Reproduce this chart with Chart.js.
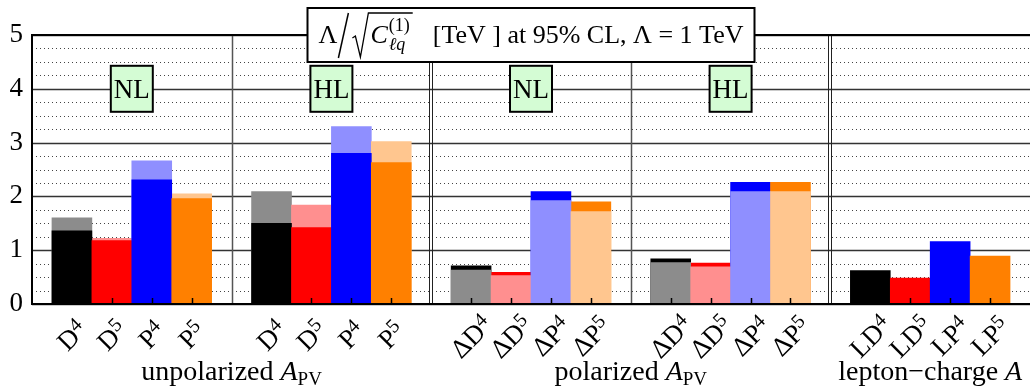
<!DOCTYPE html>
<html>
<head>
<meta charset="utf-8">
<script src="https://cdn.jsdelivr.net/npm/chart.js@4"></script>
<style>
  html, body { margin: 0; background: #fff; }
  #wrap { width: 1030px; height: 389px; }
</style>
</head>
<body>
<div id="wrap"><canvas id="chart"></canvas></div>
<script>
// categorías del eje x ('' = hueco entre grupos); el último dígito va como exponente
const labels = ['D4', 'D5', 'P4', 'P5', '',
                'D4', 'D5', 'P4', 'P5', '',
                'ΔD4', 'ΔD5', 'ΔP4', 'ΔP5', '',
                'ΔD4', 'ΔD5', 'ΔP4', 'ΔP5', '',
                'LD4', 'LD5', 'LP4', 'LP5'];

// valores (TeV) de la serie oscura y de la clara
const darkValues  = [1.36, 1.18, 2.31, 1.96, null,
                     1.50, 1.42, 2.80, 2.63, null,
                     0.71, 0.59, 2.09, 1.90, null,
                     0.84, 0.76, 2.26, 2.26, null,
                     0.62, 0.48, 1.16, 0.89];
const lightValues = [1.60, 1.22, 2.66, 2.05, null,
                     2.09, 1.84, 3.30, 3.02, null,
                     0.63, 0.53, 1.92, 1.72, null,
                     0.77, 0.69, 2.09, 2.09, null,
                     null, null, null, null];

const darkColors  = ['#000000', '#ff0000', '#0000ff', '#ff8000'];
const lightColors = ['#8c8c8c', '#ff8f8f', '#8f8fff', '#ffc68f'];

const groupTags = ['NL', 'HL', 'NL', 'HL'];
const sectionNames = ['unpolarized', 'polarized', 'lepton−charge'];
const sectionSubs = ['PV', 'PV', ''];
const sectionRanges = [[0, 8], [10, 18], [20, 23]];
const doubleSeparators = [9, 19];
const singleSeparators = [4, 14];

const SERIF = '"Liberation Serif", "DejaVu Serif", serif';

// barra trasera = el valor mayor, barra delantera = el menor
const backData = [], frontData = [], backColors = [], frontColors = [];
labels.forEach((l, i) => {
  const d = darkValues[i], lt = lightValues[i], c = i % 5;
  if (d === null) { backData.push(null); frontData.push(null); backColors.push('#fff'); frontColors.push('#fff'); return; }
  if (lt === null) { backData.push(d); frontData.push(null); backColors.push(darkColors[c]); frontColors.push('#fff'); return; }
  if (d >= lt) {
    backData.push(d); backColors.push(darkColors[c]);
    frontData.push(lt); frontColors.push(lightColors[c]);
  } else {
    backData.push(lt); backColors.push(lightColors[c]);
    frontData.push(d); frontColors.push(darkColors[c]);
  }
});

// medio hueco a cada extremo del eje
const pad = a => [null, ...a, null];
const xLabels = ['', ...labels, ''];
const X = i => i + 1;   // índice de labels -> índice en el eje

const gridPlugin = {
  id: 'grid',
  beforeDatasetsDraw(chart) {
    const { ctx, chartArea: a, scales: { x, y } } = chart;
    ctx.save();
    y.ticks.forEach(t => {
      const py = Math.round(y.getPixelForValue(t.value)) + 0.5;
      const major = Math.abs(t.value - Math.round(t.value)) < 1e-6;
      ctx.beginPath();
      if (major) { ctx.setLineDash([]); ctx.strokeStyle = '#333'; ctx.lineWidth = 1.5; }
      else { ctx.setLineDash([1, 3]); ctx.strokeStyle = '#444'; ctx.lineWidth = 1; }
      ctx.moveTo(a.left, py); ctx.lineTo(a.right, py); ctx.stroke();
    });
    ctx.setLineDash([]);
    singleSeparators.forEach(i => {
      const px = Math.round(x.getPixelForValue(X(i))) + 0.5;
      ctx.strokeStyle = '#555'; ctx.lineWidth = 1.5;
      ctx.beginPath(); ctx.moveTo(px, a.top); ctx.lineTo(px, a.bottom); ctx.stroke();
    });
    doubleSeparators.forEach(i => {
      const px = Math.round(x.getPixelForValue(X(i)));
      ctx.strokeStyle = '#222'; ctx.lineWidth = 1;
      [-1.5, 1.5].forEach(o => {
        ctx.beginPath(); ctx.moveTo(px + o, a.top); ctx.lineTo(px + o, a.bottom); ctx.stroke();
      });
    });
    ctx.restore();
  },
  afterDatasetsDraw(chart) {
    const { ctx, chartArea: a, scales: { x, y } } = chart;
    ctx.save();
    // marcas del eje x
    ctx.strokeStyle = '#000'; ctx.lineWidth = 1.5;
    labels.forEach((l, i) => {
      if (!l) return;
      const px = Math.round(x.getPixelForValue(X(i))) + 0.5;
      ctx.beginPath(); ctx.moveTo(px, a.bottom); ctx.lineTo(px, a.bottom - 6); ctx.stroke();
    });
    // bordes
    ctx.lineWidth = 2; ctx.strokeStyle = '#000';
    ctx.beginPath();
    ctx.moveTo(a.right, a.top); ctx.lineTo(a.left, a.top); ctx.lineTo(a.left, a.bottom); ctx.lineTo(a.right, a.bottom);
    ctx.stroke();
    // etiquetas NL / HL
    ctx.font = '27px ' + SERIF;
    ctx.textAlign = 'center'; ctx.textBaseline = 'middle';
    groupTags.forEach((tag, g) => {
      const cx = x.getPixelForValue(X(g * 5 + 1.5));
      const cy = y.getPixelForValue(4);
      const w = 42, h = 46;
      ctx.fillStyle = '#d4fcd4';
      ctx.fillRect(cx - w / 2, cy - h / 2, w, h);
      ctx.strokeStyle = '#000'; ctx.lineWidth = 2;
      ctx.strokeRect(cx - w / 2, cy - h / 2, w, h);
      ctx.fillStyle = '#000';
      ctx.fillText(tag, cx, cy + 2);
    });
    ctx.restore();
    drawTitle(chart);
  },
  afterDraw(chart) {
    const { ctx, chartArea: a, scales: { x } } = chart;
    ctx.save();
    ctx.fillStyle = '#000'; ctx.textBaseline = 'alphabetic'; ctx.textAlign = 'left';
    // etiquetas giradas del eje x
    const fMain = '27px ' + SERIF, fSup = '20px ' + SERIF;
    labels.forEach((l, i) => {
      if (!l) return;
      const main = l.slice(0, -1), sup = l.slice(-1);
      ctx.font = fMain; const wm = ctx.measureText(main).width;
      ctx.font = fSup; const ws = ctx.measureText(sup).width;
      const w = wm + ws;
      ctx.save();
      ctx.translate(x.getPixelForValue(X(i)), a.bottom + 29 + w * 0.08);
      ctx.rotate(-Math.PI / 4);
      ctx.font = fMain; ctx.fillText(main, -w / 2, 9);
      ctx.font = fSup; ctx.fillText(sup, -w / 2 + wm, 1);
      ctx.restore();
    });
    // títulos de sección
    sectionNames.forEach((name, s) => {
      const cx = x.getPixelForValue(X((sectionRanges[s][0] + sectionRanges[s][1]) / 2));
      const f1 = '28px ' + SERIF, f2 = 'italic 28px ' + SERIF, f3 = '19px ' + SERIF;
      const t1 = name + ' ';
      ctx.font = f1; const w1 = ctx.measureText(t1).width;
      ctx.font = f2; const w2 = ctx.measureText('A').width;
      ctx.font = f3; const w3 = ctx.measureText(sectionSubs[s]).width;
      let px = cx - (w1 + w2 + w3) / 2;
      const by = 380;
      ctx.font = f1; ctx.fillText(t1, px, by); px += w1;
      ctx.font = f2; ctx.fillText('A', px, by); px += w2;
      ctx.font = f3; ctx.fillText(sectionSubs[s], px, by + 5);
    });
    ctx.restore();
  }
};

function drawTitle(chart) {
  const { ctx, chartArea: a } = chart;
  const big = '26px ' + SERIF, it = 'italic 26px ' + SERIF;
  const small = '18px ' + SERIF, smallIt = 'italic 18px ' + SERIF;
  const rest = '[TeV ] at 95% CL, Λ = 1 TeV';
  ctx.save();
  ctx.font = big; const wL = ctx.measureText('Λ').width;
  const wRest = ctx.measureText(rest).width;
  ctx.font = it; const wC = ctx.measureText('C').width;
  ctx.font = small; const wSup = ctx.measureText('(1)').width;
  ctx.font = smallIt; const wSub = ctx.measureText('ℓq').width;
  const wScript = Math.max(wSup, wSub);
  const wSlash = 13, wRad = 20, gap = 20;
  const total = wL + wSlash + wRad + wC + wScript + 4 + gap + wRest;
  const cx = (a.left + a.right) / 2;
  const bw = 447, bh = 54, top = 8;
  ctx.fillStyle = '#fff';
  ctx.fillRect(cx - bw / 2, top, bw, bh);
  ctx.strokeStyle = '#000'; ctx.lineWidth = 2;
  ctx.strokeRect(cx - bw / 2, top, bw, bh);
  let px = cx - total / 2;
  const by = 43;
  ctx.fillStyle = '#000'; ctx.textAlign = 'left'; ctx.textBaseline = 'alphabetic';
  ctx.font = big; ctx.fillText('Λ', px, by); px += wL;
  ctx.lineWidth = 1.5;
  ctx.beginPath(); ctx.moveTo(px + 1, 58); ctx.lineTo(px + 11, 13); ctx.stroke();
  px += wSlash;
  const barEnd = px + wRad + wC + wScript + 4;
  ctx.lineWidth = 1.3;
  ctx.beginPath();
  ctx.moveTo(px + 2, 38); ctx.lineTo(px + 5, 36); ctx.lineTo(px + 10, 57);
  ctx.lineTo(px + 18, 13); ctx.lineTo(barEnd, 13);
  ctx.stroke();
  px += wRad;
  ctx.font = it; ctx.fillText('C', px, by); px += wC + 1;
  ctx.font = small; ctx.fillText('(1)', px, by - 12);
  ctx.font = smallIt; ctx.fillText('ℓq', px, by + 7);
  px += wScript + 3 + gap;
  ctx.font = big; ctx.fillText(rest, px, by);
  ctx.restore();
}

new Chart(document.getElementById('chart'), {
  type: 'bar',
  data: {
    labels: xLabels,
    datasets: [
      { data: pad(frontData), backgroundColor: pad(frontColors), grouped: false, order: 0,
        barPercentage: 1, categoryPercentage: 1 },
      { data: pad(backData), backgroundColor: pad(backColors), grouped: false, order: 1,
        barPercentage: 1, categoryPercentage: 1 }
    ]
  },
  options: {
    responsive: true,
    maintainAspectRatio: false,
    animation: false,
    layout: { padding: { top: 35, right: 0, left: 0, bottom: 0 } },
    plugins: { legend: { display: false }, tooltip: { enabled: false } },
    scales: {
      x: {
        offset: false,
        grid: { display: false, drawTicks: false },
        border: { display: false },
        ticks: { display: false, autoSkip: false },
        afterFit(s) { s.height = 85; s.paddingLeft = 0; s.paddingRight = 0; }
      },
      y: {
        min: 0, max: 5,
        grid: { display: false, drawTicks: false },
        border: { display: false },
        ticks: {
          stepSize: 0.25, autoSkip: false, padding: 9, color: '#000',
          font: { family: SERIF, size: 27 },
          callback: v => (Math.abs(v - Math.round(v)) < 1e-6 ? String(Math.round(v)) : '')
        },
        afterFit(s) { s.width = 32; }
      }
    }
  },
  plugins: [gridPlugin]
});
</script>
</body>
</html>
